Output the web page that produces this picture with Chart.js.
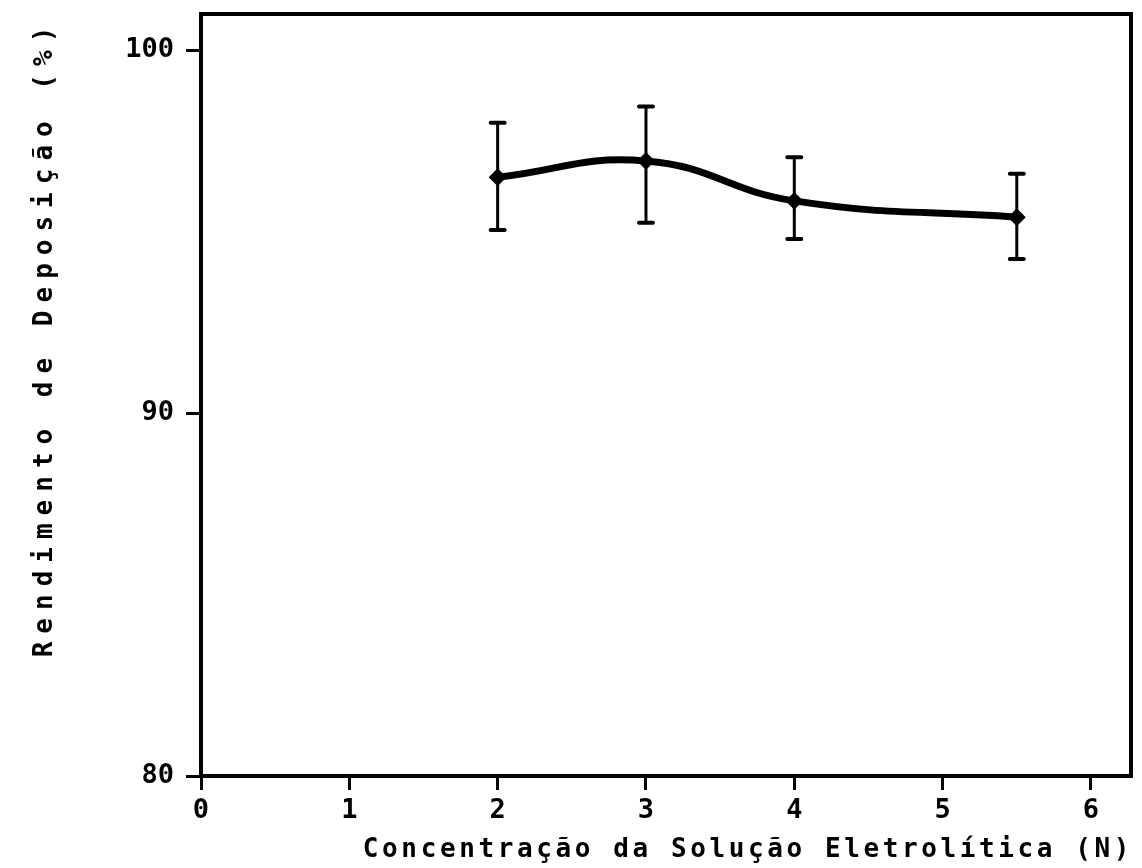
<!DOCTYPE html>
<html lang="pt">
<head>
<meta charset="utf-8">
<title>Rendimento de Deposição</title>
<script src="https://cdn.jsdelivr.net/npm/chart.js@4.4.1/dist/chart.umd.min.js"></script>
<style>
  html, body { margin: 0; padding: 0; background: #fff; }
  #wrap { width: 1142px; height: 868px; position: relative; }
</style>
</head>
<body>
<div id="wrap"><canvas id="grafico"></canvas></div>
<script>
// dados
const concentracao = [2, 3, 4, 5.5];
const rendimento = [96.5, 96.95, 95.85, 95.4];
const erroSup = [98.0, 98.45, 97.05, 96.6];
const erroInf = [95.05, 95.25, 94.8, 94.25];

const ticksX = [0, 1, 2, 3, 4, 5, 6];
const ticksY = [80, 90, 100];

const tituloX = "Concentração da Solução Eletrolítica (N)";
const tituloY = "Rendimento de Deposição (%)";

const FONTE = "'DejaVu Sans Mono', monospace";

// barras de erro + moldura + títulos
const extras = {
  id: "extras",
  afterDatasetsDraw(chart) {
    const { ctx, chartArea, scales } = chart;
    const x = scales.x, y = scales.y;
    ctx.save();
    ctx.strokeStyle = "#000";
    ctx.lineCap = "round";
    concentracao.forEach((c, i) => {
      const px = x.getPixelForValue(c);
      const top = y.getPixelForValue(erroSup[i]);
      const bot = y.getPixelForValue(erroInf[i]);
      ctx.lineWidth = 3;
      ctx.beginPath();
      ctx.moveTo(px, top);
      ctx.lineTo(px, bot);
      ctx.stroke();
      ctx.lineWidth = 4;
      ctx.beginPath();
      ctx.moveTo(px - 7, top);
      ctx.lineTo(px + 7, top);
      ctx.moveTo(px - 7, bot);
      ctx.lineTo(px + 7, bot);
      ctx.stroke();
    });

    // moldura
    ctx.lineWidth = 4;
    ctx.lineCap = "butt";
    ctx.strokeRect(chartArea.left, chartArea.top, chartArea.right - chartArea.left, chartArea.bottom - chartArea.top);

    // títulos
    ctx.fillStyle = "#000";
    ctx.font = "bold 26px " + FONTE;
    ctx.letterSpacing = "3.6px";
    ctx.textAlign = "right";
    ctx.textBaseline = "middle";
    ctx.fillText(tituloX, chartArea.right + 2, 850);

    ctx.translate(45, 338);
    ctx.rotate(-Math.PI / 2);
    ctx.letterSpacing = "8px";
    ctx.textAlign = "center";
    ctx.fillText(tituloY, 0, 0);
    ctx.restore();
  },
};

new Chart(document.getElementById("grafico"), {
  type: "scatter",
  data: {
    datasets: [
      {
        data: concentracao.map((c, i) => ({ x: c, y: rendimento[i] })),
        showLine: true,
        borderColor: "#000",
        backgroundColor: "#000",
        borderWidth: 7,
        tension: 0.45,
        pointStyle: "rectRot",
        pointRadius: 4,
        pointHoverRadius: 4,
      },
    ],
  },
  options: {
    responsive: true,
    maintainAspectRatio: false,
    animation: false,
    events: [],
    layout: { padding: { left: 0, top: 14, right: 9, bottom: 0 } },
    plugins: {
      legend: { display: false },
      tooltip: { enabled: false },
    },
    scales: {
      x: {
        type: "linear",
        min: 0,
        max: 6.27,
        afterBuildTicks: (s) => { s.ticks = ticksX.map((v) => ({ value: v })); },
        afterFit: (s) => { s.height = 92; s.paddingLeft = 0; s.paddingRight = 0; },
        border: { display: false },
        grid: { drawOnChartArea: false, drawTicks: true, tickLength: 14, tickColor: "#000", tickWidth: 3 },
        ticks: { color: "#000", padding: 5, maxRotation: 0, font: { family: FONTE, size: 27, weight: "bold" } },
      },
      y: {
        min: 80,
        max: 101,
        afterBuildTicks: (s) => { s.ticks = ticksY.map((v) => ({ value: v })); },
        afterFit: (s) => { s.width = 201; s.paddingTop = 0; s.paddingBottom = 0; },
        border: { display: false },
        grid: { drawOnChartArea: false, drawTicks: true, tickLength: 15, tickColor: "#000", tickWidth: 3 },
        ticks: { color: "#000", padding: 12, font: { family: FONTE, size: 27, weight: "bold" } },
      },
    },
  },
  plugins: [extras],
});
</script>
</body>
</html>
